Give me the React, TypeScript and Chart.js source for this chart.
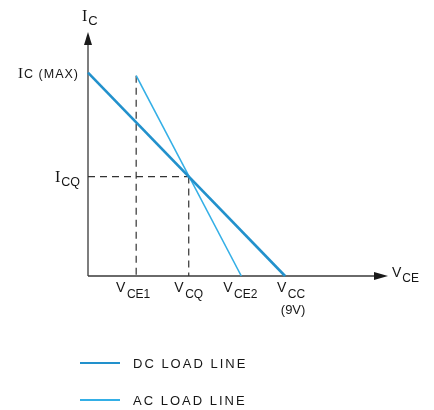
import React, { useEffect, useRef } from "react";
import { Chart, registerables } from "chart.js";

Chart.register(...registerables);

// ---- data (volts on x, collector current units on y) ----
const axisMaxX = 13.7;
const axisMaxY = 12;
const dcLineX = [0, 9];
const dcLineY = [10, 0];
const acLineX = [2.2, 7.0];
const acLineY = [9.85, 0];
const vcq = 4.6;
const icq = 4.89;
const vce1 = 2.2;
const vce1Top = 9.85;
const xTickValues = [2.2, 4.6, 7.0, 9.0];
const xTickSubs = ["CE1", "CQ", "CE2", "CC"];
const xTickOffsets = [-3, 0, -1, 6];
const seriesNames = ["DC LOAD LINE", "AC LOAD LINE"];

const toPts = (xs: number[], ys: number[]) => xs.map((x, i) => ({ x, y: ys[i] }));

const SANS = "'Liberation Sans', Arial, sans-serif";
const SERIF = "'Liberation Serif', 'DejaVu Serif', serif";

const drawSubLabel = (
  ctx: CanvasRenderingContext2D,
  main: string,
  sub: string,
  cx: number,
  baseline: number,
  mainFont: string,
  subFont: string,
  subDrop: number,
  gap: number,
  align: "center" | "left" | "right"
) => {
  ctx.font = mainFont;
  const wm = ctx.measureText(main).width;
  ctx.font = subFont;
  const ws = ctx.measureText(sub).width;
  const total = wm + gap + ws;
  let x0 = cx - total / 2;
  if (align === "left") x0 = cx;
  if (align === "right") x0 = cx - total;
  ctx.textAlign = "left";
  ctx.textBaseline = "alphabetic";
  ctx.font = mainFont;
  ctx.fillText(main, x0, baseline);
  ctx.font = subFont;
  ctx.fillText(sub, x0 + wm + gap, baseline + subDrop);
};

const decorPlugin = {
  id: "decor",
  beforeDatasetsDraw(chart: any) {
    const { ctx, scales } = chart;
    const xs = scales.x;
    const ys = scales.y;
    const ox = xs.getPixelForValue(0);
    const oy = ys.getPixelForValue(0);
    const xEnd = xs.getPixelForValue(axisMaxX);
    const yEnd = ys.getPixelForValue(axisMaxY);
    ctx.save();
    ctx.strokeStyle = "#3a3a3a";
    ctx.fillStyle = "#1a1a1a";
    ctx.lineWidth = 1.3;
    ctx.beginPath();
    ctx.moveTo(ox, oy);
    ctx.lineTo(ox, yEnd + 8);
    ctx.moveTo(ox, oy);
    ctx.lineTo(xEnd - 10, oy);
    ctx.stroke();
    // arrows
    ctx.beginPath();
    ctx.moveTo(ox, yEnd);
    ctx.lineTo(ox - 4, yEnd + 13);
    ctx.lineTo(ox + 4, yEnd + 13);
    ctx.closePath();
    ctx.fill();
    ctx.beginPath();
    ctx.moveTo(xEnd, oy);
    ctx.lineTo(xEnd - 14, oy - 4);
    ctx.lineTo(xEnd - 14, oy + 4);
    ctx.closePath();
    ctx.fill();
    ctx.restore();
  },
  afterDraw(chart: any) {
    const { ctx, scales } = chart;
    const xs = scales.x;
    const ys = scales.y;
    const ox = xs.getPixelForValue(0);
    const oy = ys.getPixelForValue(0);
    const xEnd = xs.getPixelForValue(axisMaxX);
    const yEnd = ys.getPixelForValue(axisMaxY);
    ctx.save();
    ctx.fillStyle = "#161616";
    // x tick labels
    xTickValues.forEach((v, i) => {
      const px = xs.getPixelForValue(v) + xTickOffsets[i];
      drawSubLabel(ctx, "V", xTickSubs[i], px, oy + 16, `14px ${SANS}`, `12px ${SANS}`, 6, 1.5, "center");
    });
    ctx.font = `13px ${SANS}`;
    ctx.textAlign = "center";
    ctx.fillText("(9V)", xs.getPixelForValue(9) + 8, oy + 38);
    // x axis title
    drawSubLabel(ctx, "V", "CE", xEnd + 4, oy + 1, `14px ${SANS}`, `12px ${SANS}`, 5, 1, "left");
    // y axis title
    drawSubLabel(ctx, "I", "C", ox - 6, yEnd - 11, `16px ${SERIF}`, `13px ${SANS}`, 4, 1, "left");
    // Ic(max)
    const yMax = ys.getPixelForValue(dcLineY[0]);
    ctx.font = `12.5px ${SANS}`;
    (ctx as any).letterSpacing = "1px";
    const wRest = ctx.measureText("C (MAX)").width;
    ctx.textAlign = "left";
    ctx.fillText("C (MAX)", ox - 9 - wRest, yMax + 5);
    (ctx as any).letterSpacing = "0px";
    ctx.font = `15px ${SERIF}`;
    const wI = ctx.measureText("I").width;
    ctx.fillText("I", ox - 9 - wRest - 1 - wI, yMax + 5);
    // Icq
    const yQ = ys.getPixelForValue(icq);
    drawSubLabel(ctx, "I", "CQ", ox - 8, yQ + 5, `16px ${SERIF}`, `12.5px ${SANS}`, 4, 1, "right");
    // legend
    const ds = chart.data.datasets;
    const legendY = [363, 400];
    [0, 1].forEach((k) => {
      const y = legendY[k];
      ctx.strokeStyle = ds[k].borderColor;
      ctx.lineWidth = 2.2;
      ctx.beginPath();
      ctx.moveTo(80, y);
      ctx.lineTo(120, y);
      ctx.stroke();
      ctx.fillStyle = "#161616";
      ctx.font = `13px ${SANS}`;
      (ctx as any).letterSpacing = "2px";
      ctx.textAlign = "left";
      ctx.textBaseline = "middle";
      ctx.fillText(ds[k].label, 133, y + 1);
      (ctx as any).letterSpacing = "0px";
    });
    ctx.restore();
  },
};

export default function App() {
  const ref = useRef<HTMLCanvasElement | null>(null);
  useEffect(() => {
    if (!ref.current) return;
    const dash = {
      borderColor: "#333333",
      borderWidth: 1.2,
      borderDash: [7, 5],
      pointRadius: 0,
      showLine: true,
      clip: false as any,
    };
    const chart = new Chart(ref.current, {
      type: "scatter",
      data: {
        datasets: [
          {
            label: seriesNames[0],
            data: toPts(dcLineX, dcLineY),
            borderColor: "#2291cc",
            borderWidth: 2.6,
            pointRadius: 0,
            showLine: true,
            clip: false as any,
          },
          {
            label: seriesNames[1],
            data: toPts(acLineX, acLineY),
            borderColor: "#34afe6",
            borderWidth: 1.6,
            pointRadius: 0,
            showLine: true,
            clip: false as any,
          },
          { label: "icq", data: [{ x: 0, y: icq }, { x: vcq, y: icq }], ...dash },
          { label: "vcq", data: [{ x: vcq, y: icq }, { x: vcq, y: 0 }], ...dash },
          { label: "vce1", data: [{ x: vce1, y: vce1Top }, { x: vce1, y: 0 }], ...dash },
        ],
      },
      options: {
        animation: false,
        responsive: false,
        layout: { padding: { left: 88, right: 46, top: 32, bottom: 134 } },
        scales: {
          x: { type: "linear", min: 0, max: axisMaxX, display: false },
          y: { type: "linear", min: 0, max: axisMaxY, display: false },
        },
        plugins: { legend: { display: false }, tooltip: { enabled: false } },
        events: [],
      },
      plugins: [decorPlugin],
    });
    return () => chart.destroy();
  }, []);
  return (
    <div style={{ position: "fixed", left: 0, top: 0, width: 434, height: 410, background: "#fff" }}>
      <canvas ref={ref} width={434} height={410} />
    </div>
  );
}
